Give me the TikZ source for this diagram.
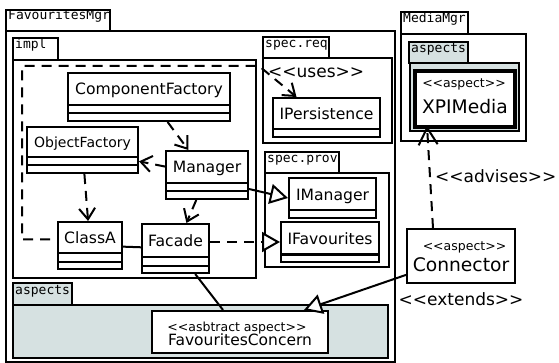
\documentclass[tikz,border=0pt]{standalone}
\usepackage{fontspec}
\setmainfont{DejaVu Sans}[Ligatures=TeXOff]
\setmonofont{DejaVu Sans Mono}
\usetikzlibrary{arrows.meta}
\definecolor{aspectfill}{RGB}{214,225,225}
\def\umlclass[#1](#2,#3)(#4,#5)#6{%
  \node[classbox, minimum width=#4-#2, minimum height=#5-#3] (#1) at ({(#2+#4)/2}, {(#3+#5)/2}) {};
  \node[classname] (#1-name) at ({(#2+#4)/2}, {(#3+#5-17)/2+6.5}) {#6};
  \draw[classline] ([yshift=17pt]#1.south west) -- ([yshift=17pt]#1.south east);
  \draw[classline] ([yshift=8.5pt]#1.south west) -- ([yshift=8.5pt]#1.south east);}
\def\umliface[#1](#2,#3)(#4,#5)#6{%
  \node[classbox, minimum width=#4-#2, minimum height=#5-#3] (#1) at ({(#2+#4)/2}, {(#3+#5)/2}) {};
  \node[classname] (#1-name) at ({(#2+#4)/2}, {(#3+#5-8.5)/2+6.5}) {#6};
  \draw[classline] ([yshift=8.5pt]#1.south west) -- ([yshift=8.5pt]#1.south east);}
\tikzset{
  classbox/.style={draw, rectangle, line width=2pt, fill=white, inner sep=0pt},
  classline/.style={line width=2pt},
  classname/.style={anchor=base, inner sep=0pt, font=\fontsize{15.6}{16}\selectfont},
  stereo/.style={anchor=base, inner sep=0pt, font=\fontsize{12.5}{13}\selectfont},
  aspectname/.style={anchor=base, inner sep=0pt, font=\fontsize{18.7}{19}\selectfont},
  rellabel/.style={anchor=base west, inner sep=0pt, font=\fontsize{17}{17}\selectfont},
  pkg/.style={draw, line width=2pt},
  pkglabel/.style={anchor=base west, inner sep=0pt, font={\ttfamily\fontsize{13}{13}\selectfont}},
  dep/.style={line width=2pt, dash pattern=on 10pt off 7pt, -{Straight Barb[length=11pt, width=16pt]}},
  realize/.style={line width=2pt, -{Triangle[length=18pt, width=20pt, fill=white]}},
  realizedash/.style={realize, dash pattern=on 10pt off 7pt},
  assoc/.style={line width=2pt},
}
\begin{document}
\begin{tikzpicture}[x=1pt, y=-1pt]
		%%%%% START %%%%%
		\useasboundingbox (0, 0) rectangle (559, 363);
		
		% FavouritesMgr
		\draw[pkg] (6, 31) rectangle (395, 362);
		\draw[pkg] (6, 10) rectangle (110, 31);
		\node[pkglabel] (favMgrLbl) at (8, 20) {FavouritesMgr};
		
		\draw[pkg] (13, 60) rectangle (256, 278);
		\draw[pkg] (13, 38) rectangle (58, 60);
		\node[pkglabel] (implLbl) at (15, 48.5) {impl};
		
		\draw[pkg] (263, 58) rectangle (392, 143);
		\draw[pkg] (263, 37) rectangle (329, 58);
		\node[pkglabel] (specReqLbl) at (265, 47.5) {spec.req};
		
		\draw[pkg] (265, 173) rectangle (389, 267);
		\draw[pkg] (265, 152) rectangle (339, 173);
		\node[pkglabel] (specProvLbl) at (267, 162.5) {spec.prov};
		
		\draw[pkg, fill=aspectfill] (13, 305) rectangle (388, 358);
		\draw[pkg, fill=aspectfill] (13, 283) rectangle (72, 305);
		\node[pkglabel] (favAspLbl) at (15, 294) {aspects};
		
		% MediaMgr
		\draw[pkg] (401, 34) rectangle (526, 141);
		\draw[pkg] (401, 12) rectangle (468, 34);
		\node[pkglabel] (mediaMgrLbl) at (403, 22.5) {MediaMgr};
		
		\draw[pkg, fill=aspectfill, line width=2.5pt] (410, 63) rectangle (519, 131);
		\draw[pkg, fill=aspectfill] (409, 42) rectangle (468, 63);
		\node[pkglabel] (mediaAspLbl) at (411, 52.5) {aspects};
		
		% classes
		\umlclass[compFactory](68, 73)(230, 121){ComponentFactory}
		\umlclass[objFactory](27, 127)(138, 173){\fontsize{14}{14}\selectfont ObjectFactory}
		\umlclass[manager](166, 151)(248, 199){Manager}
		\umlclass[classA](58, 222)(122, 269){ClassA}
		\umlclass[facade](142, 224)(209, 273){Facade}
		\umliface[iPersistence](273, 98)(380, 137){IPersistence}
		\umliface[iManager](289, 178)(376, 218){IManager}
		\umliface[iFavourites](281, 222)(379, 262){IFavourites}
		
		% aspects
		\node[classbox, minimum width=100, minimum height=56, line width=3.5pt] (xpiMedia) at (465, 99) {};
		\node[stereo] (xpiMedia-st) at (464, 87.3) {<<aspect>>};
		\node[aspectname] (xpiMedia-name) at (465, 113.3) {XPIMedia};
		
		\node[classbox, minimum width=108, minimum height=54] (connector) at (461, 256) {};
		\node[stereo] (connector-st) at (464.5, 251) {<<aspect>>};
		\node[aspectname] (connector-name) at (461, 271.7) {Connector};
		
		\node[classbox, minimum width=176, minimum height=42] (favConcern) at (240, 332) {};
		\node[stereo] (favConcern-st) at (237, 331) {<<asbtract aspect>>};
		\node[classname, font=\fontsize{15.5}{16}\selectfont] (favConcern-name) at (240, 345) {FavouritesConcern};
		
		% relations
		\coordinate (usesCorner) at (22, 66);
		\coordinate (usesBend) at (259, 66);
		\draw[dep, dash phase=10pt] ([yshift=6pt]classA.west) -| (usesCorner) -- (usesBend) -- ([xshift=-30pt]iPersistence.north);
		\node[rellabel] (usesLbl) at (268, 77.3) {<<uses>>};
		
		\draw[dep] (compFactory) -- (manager);
		\draw[dep] (manager) -- (objFactory);
		\draw[dep] (objFactory) -- (classA);
		\draw[dep] (manager) -- (facade);
		\draw[assoc] (classA) -- (facade);
		\draw[realize] ([yshift=11pt]manager.south east) -- (iManager.west);
		\draw[realizedash] (facade.east |- iFavourites.west) -- (iFavourites.west);
		\draw[assoc] (facade) -- (favConcern);
		
		\draw[dep, -{Straight Barb[length=17pt, width=19pt]}] ([xshift=-28pt]connector.north) -- ([xshift=-38pt, yshift=3pt]xpiMedia.south);
		\node[rellabel] (advisesLbl) at (435, 182.7) {<<advises>>};
		
		\draw[realize] (connector) -- (favConcern);
		\node[rellabel] (extendsLbl) at (398.5, 305) {<<extends>>};
		
		%%%%% END %%%%%
\end{tikzpicture}
\end{document}
